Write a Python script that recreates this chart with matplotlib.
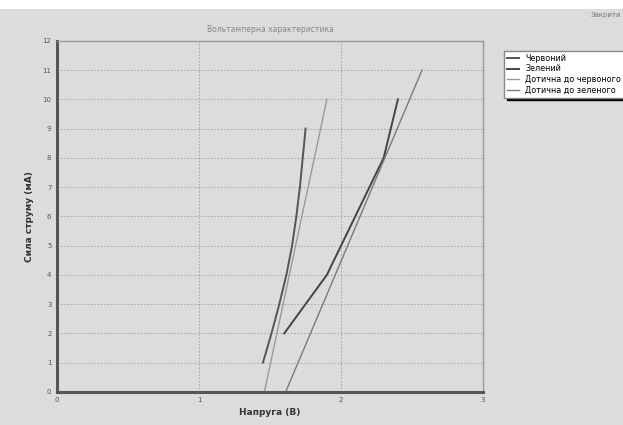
import numpy as np
import matplotlib.pyplot as plt
from matplotlib.patches import Rectangle

# data
red_v = [1.45, 1.51, 1.565, 1.615, 1.655, 1.685, 1.71, 1.73, 1.75]
red_i = [1, 2, 3, 4, 5, 6, 7, 8, 9]
green_v = [1.60, 1.75, 1.90, 2.00, 2.10, 2.20, 2.30, 2.35, 2.40]
green_i = [2, 3, 4, 5, 6, 7, 8, 9, 10]
tan_red_v = [1.46, 1.90]
tan_red_i = [0, 10]
tan_green_v = [1.61, 2.57]
tan_green_i = [0, 11]
names = ['Червоний', 'Зелений', 'Дотична до червоного', 'Дотична до зеленого']

bg = '#dcdcdc'
fig = plt.figure(figsize=(6.23, 4.25), dpi=100, facecolor=bg)
fig.patches.append(Rectangle((0, 0.978), 1, 0.022, transform=fig.transFigure,
                             facecolor='white', edgecolor='none'))
fig.text(0.948, 0.972, 'Закрити', fontsize=5, color='#777777', va='top', ha='left')

ax = fig.add_axes([0.0915, 0.078, 0.684, 0.826], facecolor=bg)
l1, = ax.plot(red_v, red_i, color='#555555', lw=1.4)
l2, = ax.plot(green_v, green_i, color='#444444', lw=1.4)
l3, = ax.plot(tan_red_v, tan_red_i, color='#9a9a9a', lw=1.0)
l4, = ax.plot(tan_green_v, tan_green_i, color='#7a7a7a', lw=1.0)

ax.set_xlim(0, 3)
ax.set_ylim(0, 12)
ax.set_xticks([0, 1, 2, 3])
ax.set_yticks(range(13))
ax.grid(True, color='#a0a0a0', linestyle=(0, (2, 2)), lw=0.6)
ax.tick_params(labelsize=5, colors='#555555', length=0, pad=4)
for s in ['left', 'bottom']:
    ax.spines[s].set_linewidth(2.2)
    ax.spines[s].set_color('#555555')
for s in ['top', 'right']:
    ax.spines[s].set_linewidth(1.0)
    ax.spines[s].set_color('#999999')

ax.set_title('Вольтамперна характеристика', fontsize=5.5, color='#888888', pad=6)
ax.set_xlabel('Напруга (В)', fontsize=6.5, fontweight='bold', color='#333333', labelpad=3)
ax.set_ylabel('Сила струму (мА)', fontsize=6.5, fontweight='bold', color='#333333', labelpad=6)

leg = fig.legend([l1, l2, l3, l4], names, loc='upper left',
                 bbox_to_anchor=(500 / 623, 1 - 47 / 425), fontsize=5.8,
                 frameon=True, fancybox=False,
                 shadow={'color': 'black', 'alpha': 1.0},
                 handlelength=1.5, borderpad=0.35, labelspacing=0.2)
leg.get_frame().set_facecolor('white')
leg.get_frame().set_edgecolor('#888888')

plt.savefig('out.png', dpi=100, facecolor=bg)
